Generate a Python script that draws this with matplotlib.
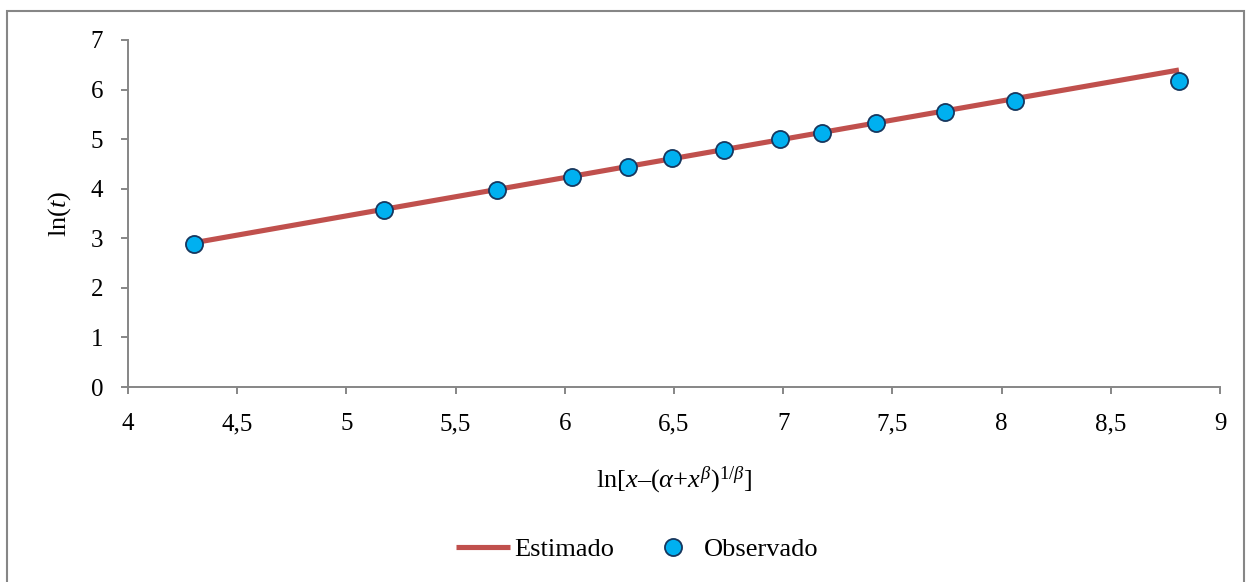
import matplotlib
matplotlib.use("Agg")
import matplotlib.pyplot as plt
from matplotlib.patches import Rectangle

plt.rcParams['font.family'] = ['Liberation Serif', 'DejaVu Serif']
plt.rcParams['mathtext.fontset'] = 'custom'
plt.rcParams['mathtext.rm'] = 'Liberation Serif'
plt.rcParams['mathtext.it'] = 'Liberation Serif:italic'
plt.rcParams['mathtext.bf'] = 'Liberation Serif:bold'

# Data
x_obs = [4.302, 5.172, 5.690, 6.033, 6.290, 6.491, 6.729, 6.985, 7.178, 7.425, 7.741, 8.061, 8.812]
y_obs = [2.885, 3.571, 3.974, 4.236, 4.438, 4.620, 4.790, 5.003, 5.124, 5.326, 5.548, 5.770, 6.173]
y_est = [2.910, 3.585, 3.985, 4.250, 4.450, 4.605, 4.789, 4.987, 5.136, 5.327, 5.571, 5.818, 6.395]

x_ticks = [4, 4.5, 5, 5.5, 6, 6.5, 7, 7.5, 8, 8.5, 9]
x_ticklabels = ['4', '4,5', '5', '5,5', '6', '6,5', '7', '7,5', '8', '8,5', '9']
y_ticks = [0, 1, 2, 3, 4, 5, 6, 7]

W, H = 1247, 582
fig = plt.figure(figsize=(W / 100, H / 100), dpi=100)
ax_l, ax_r, ax_t, ax_b = 128, 1220, 40, 387
ax = fig.add_axes([ax_l / W, 1 - ax_b / H, (ax_r - ax_l) / W, (ax_b - ax_t) / H])

spine_c = '#868686'
ax.plot(x_obs, y_est, color='#C0504D', lw=3.7, solid_capstyle='butt', label='Estimado', zorder=2)
ax.plot(x_obs, y_obs, ls='none', marker='o', ms=12.3, mfc='#00B0F0', mec='#17375E', mew=1.3,
        label='Observado', zorder=3)

ax.set_xlim(4, 9)
ax.set_ylim(0, 7)
ax.set_xticks(x_ticks)
ax.set_xticklabels(x_ticklabels)
ax.set_yticks(y_ticks)
for s in ['top', 'right']:
    ax.spines[s].set_visible(False)
for s in ['left', 'bottom']:
    ax.spines[s].set_color(spine_c)
    ax.spines[s].set_linewidth(1.4)
ax.tick_params(direction='out', length=5, width=1.4, color=spine_c, labelsize=18)
ax.tick_params(axis='x', pad=14)
ax.tick_params(axis='y', pad=13)

ax.set_xlabel(r'ln[$x$–($\alpha$+$x^{\beta}$)$^{1/\beta}$]', fontsize=19)
ax.xaxis.label.set_va('center')
ax.xaxis.set_label_coords(0.5, (ax_b - 480) / (ax_b - ax_t))
ax.set_ylabel(r'ln($t$)', fontsize=19)
ax.yaxis.label.set_va('center')
ax.yaxis.set_label_coords((60 - ax_l) / (ax_r - ax_l), 0.5)

leg = fig.legend(loc='center', bbox_to_anchor=(637.5 / W, 1 - 549 / H), ncol=2, frameon=False,
                 fontsize=19, handlelength=2.05, handletextpad=0.15, columnspacing=1.2,
                 borderpad=0, borderaxespad=0)

fig.patches.append(Rectangle((7 / W, -0.05), (1244 - 7) / W, 1.05 - 11 / H, transform=fig.transFigure,
                             fill=False, edgecolor=spine_c, lw=1.5))

fig.savefig('out.png', dpi=100)
